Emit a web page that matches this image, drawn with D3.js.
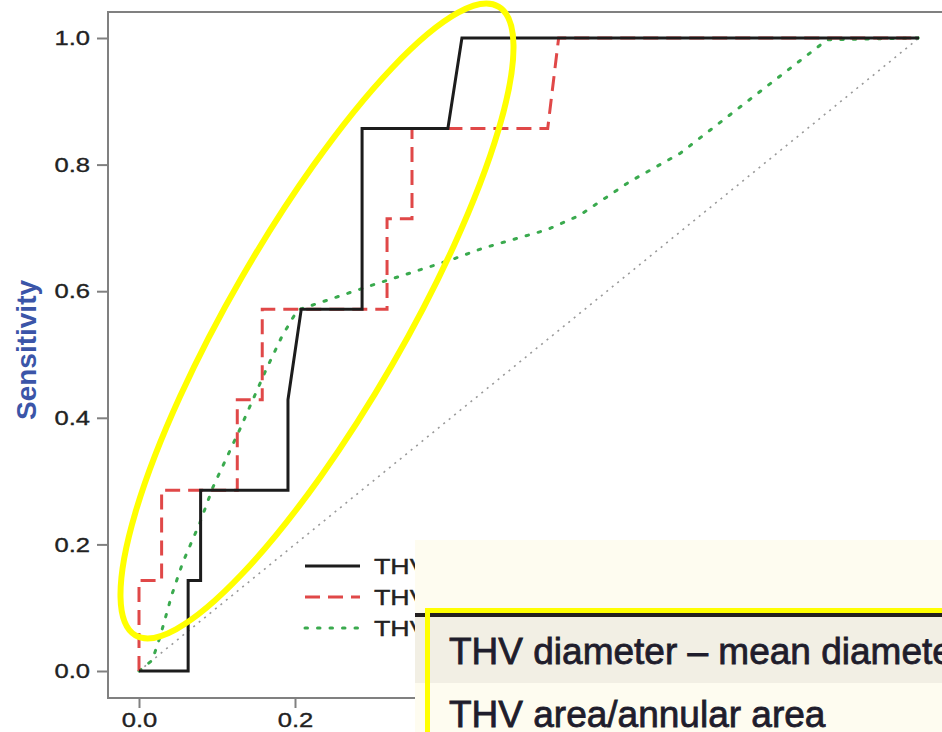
<!DOCTYPE html>
<meta charset="utf-8">
<body style="margin:0;background:#fff">
<svg width="942" height="732"></svg>
<script src="https://cdn.jsdelivr.net/npm/d3@7"></script>
<script>

// ROC data (1 - specificity, sensitivity)
var blackFpr = [0, 0.063, 0.063, 0.079, 0.079, 0.191, 0.191, 0.208, 0.286, 0.286, 0.396, 0.414, 1];
var blackTpr = [0, 0, 1/7, 1/7, 2/7, 2/7, 3/7, 4/7, 4/7, 6/7, 6/7, 1, 1];

var redFpr = [0, 0, 0.029, 0.029, 0.126, 0.126, 0.158, 0.158, 0.318, 0.318, 0.35, 0.35, 0.524, 0.538, 1];
var redTpr = [0, 1/7, 1/7, 2/7, 2/7, 3/7, 3/7, 4/7, 4/7, 5/7, 5/7, 6/7, 6/7, 1, 1];

var greenFpr = [0, 0.017, 0.027, 0.042, 0.056, 0.078, 0.095, 0.129, 0.164, 0.183, 0.203, 0.3, 0.399, 0.441, 0.523, 0.565, 0.629, 0.694, 0.779, 0.882, 1];
var greenTpr = [0, 0.017, 0.054, 0.12, 0.171, 0.234, 0.291, 0.381, 0.479, 0.528, 0.57, 0.61, 0.649, 0.668, 0.697, 0.72, 0.773, 0.818, 0.899, 0.997, 1];

var refFpr = [0, 1];
var refTpr = [0, 1];

var ticks = [0, 0.2, 0.4, 0.6, 0.8, 1.0];
var legendLabels = ["THV", "THV", "THV"]; // rest of each label is hidden under the table
var tableRows = ["THV diameter \u2013 mean diameter", "THV area/annular area"];

var svg = d3.select("svg");

var x = d3.scaleLinear().domain([0, 1]).range([139, 919]);
var y = d3.scaleLinear().domain([0, 1]).range([671, 38]);
var sx = 1.22; // horizontal stretch of the picture's text
var tableLeft = 415;

function pts(xs, ys) {
    return xs.map(function (d, i) { return [d, ys[i]]; });
}
var line = d3.line()
    .x(function (d) { return x(d[0]); })
    .y(function (d) { return y(d[1]); });

// plot box
svg.append("rect")
    .attr("x", 108).attr("y", 12)
    .attr("width", 900).attr("height", 686)
    .attr("fill", "none")
    .attr("stroke", "#808080")
    .attr("stroke-width", 2);

// y axis
var gy = svg.append("g")
    .attr("transform", "translate(108,0)")
    .call(d3.axisLeft(y).tickValues(ticks).tickSize(11).tickFormat(d3.format(".1f")));
gy.select(".domain").remove();
gy.selectAll("line").attr("stroke", "#808080").attr("stroke-width", 2);
gy.selectAll("text")
    .attr("x", -18 / sx)
    .attr("transform", "scale(" + sx + ",1)")
    .attr("fill", "#222")
    .attr("stroke", "#222").attr("stroke-width", 0.35)
    .style("font", "21px 'Liberation Sans', Arial, sans-serif");

// x axis (labels under the pasted table are hidden in the picture)
var gx = svg.append("g")
    .attr("transform", "translate(0,698)")
    .call(d3.axisBottom(x).tickValues(ticks).tickSize(10).tickFormat(d3.format(".1f")));
gx.select(".domain").remove();
gx.selectAll("line").attr("stroke", "#808080").attr("stroke-width", 2);
gx.selectAll(".tick").each(function (d) {
    var t = d3.select(this).select("text");
    if (x(d) > tableLeft) { t.remove(); return; }
    t.attr("y", 29).attr("dy", null)
        .attr("transform", "scale(" + sx + ",1)")
        .attr("fill", "#222")
        .attr("stroke", "#222").attr("stroke-width", 0.35)
        .style("font", "21px 'Liberation Sans', Arial, sans-serif");
});

// y label
svg.append("text")
    .attr("transform", "translate(36,350) rotate(-90)")
    .attr("text-anchor", "middle")
    .attr("fill", "#3b55a8")
    .style("font", "bold 28px 'Liberation Sans', Arial, sans-serif")
    .text("Sensitivity");

// reference diagonal
svg.append("path")
    .attr("d", line(pts(refFpr, refTpr)))
    .attr("fill", "none")
    .attr("stroke", "#999")
    .attr("stroke-width", 1.6)
    .attr("stroke-dasharray", "2,5");

var series = [
    {fpr: greenFpr, tpr: greenTpr, color: "#3aaa4e", dash: "2.5,10", width: 3, cap: "round"},
    {fpr: redFpr, tpr: redTpr, color: "#e04848", dash: "15,8", width: 3, cap: "butt"},
    {fpr: blackFpr, tpr: blackTpr, color: "#1c1c1c", dash: null, width: 3, cap: "butt"}
];

series.forEach(function (s) {
    svg.append("path")
        .attr("d", line(pts(s.fpr, s.tpr)))
        .attr("fill", "none")
        .attr("stroke", s.color)
        .attr("stroke-width", s.width)
        .attr("stroke-linecap", s.cap)
        .attr("stroke-dasharray", s.dash);
});

// legend
var legendOrder = [series[2], series[1], series[0]];
legendOrder.forEach(function (s, i) {
    var ly = 566 + i * 31;
    svg.append("line")
        .attr("x1", 305).attr("x2", 360)
        .attr("y1", ly).attr("y2", ly)
        .attr("stroke", s.color)
        .attr("stroke-width", s.width)
        .attr("stroke-linecap", s.cap)
        .attr("stroke-dasharray", s.dash);
    svg.append("text")
        .attr("x", 374 / sx).attr("y", ly)
        .attr("dy", "0.36em")
        .attr("transform", "scale(" + sx + ",1)")
        .attr("fill", "#222")
        .attr("stroke", "#222").attr("stroke-width", 0.4)
        .style("font", "22px 'Liberation Sans', Arial, sans-serif")
        .text(legendLabels[i]);
});

// yellow annotation ellipse
svg.append("ellipse")
    .attr("transform", "translate(317,321) rotate(-60)")
    .attr("rx", 363).attr("ry", 87)
    .attr("fill", "none")
    .attr("stroke", "#ffff00")
    .attr("stroke-width", 6);

// pasted table fragment
var tbl = svg.append("g");
tbl.append("rect")
    .attr("x", tableLeft).attr("y", 540)
    .attr("width", 540).attr("height", 200)
    .attr("fill", "#fefcf0");
tbl.append("rect")
    .attr("x", tableLeft).attr("y", 617)
    .attr("width", 540).attr("height", 66)
    .attr("fill", "#f2efe4");
tbl.append("rect")
    .attr("x", tableLeft).attr("y", 613)
    .attr("width", 540).attr("height", 4)
    .attr("fill", "#231f20");
tbl.selectAll("text.row")
    .data(tableRows)
    .enter().append("text")
    .attr("class", "row")
    .attr("x", 449)
    .attr("y", function (d, i) { return 664 + i * 63; })
    .attr("fill", "#1f1d2c")
    .attr("stroke", "#1f1d2c")
    .attr("stroke-width", 0.8)
    .style("font", "37px 'Liberation Sans', Arial, sans-serif")
    .text(function (d) { return d; });
tbl.append("rect")
    .attr("x", 427.5).attr("y", 610.5)
    .attr("width", 600).attr("height", 200)
    .attr("fill", "none")
    .attr("stroke", "#ffff00")
    .attr("stroke-width", 5);

</script>
</body>
